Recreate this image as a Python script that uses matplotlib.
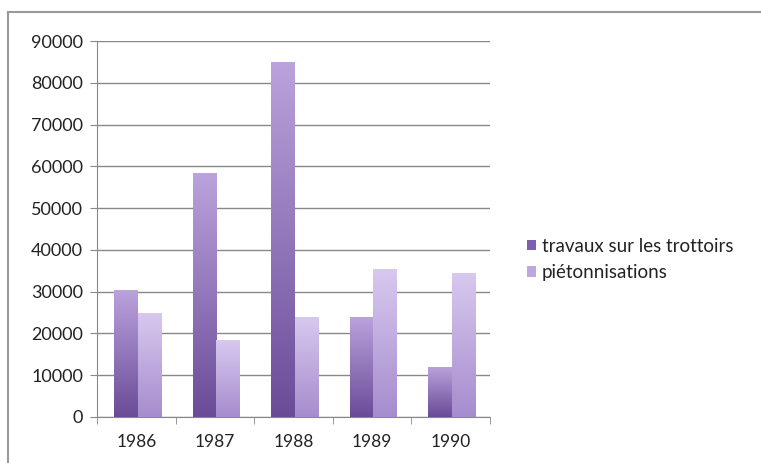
import numpy as np
import matplotlib
matplotlib.use("Agg")
import matplotlib.pyplot as plt
from matplotlib.colors import LinearSegmentedColormap
from matplotlib.lines import Line2D
from matplotlib.patches import Patch

years = ["1986", "1987", "1988", "1989", "1990"]
travaux = [30500, 58500, 85000, 24000, 12000]
pietons = [25000, 18500, 24000, 35500, 34500]
series_names = ["travaux sur les trottoirs", "piétonnisations"]

plt.rcParams['font.family'] = ['Lato', 'DejaVu Sans']

fig = plt.figure(figsize=(7.61, 4.63), dpi=100)
ax = fig.add_axes([0.1275, 0.0994, 0.516, 0.812])

# outer chart frame (top and left edges visible)
fig.add_artist(Line2D([0.011, 1.0], [0.974, 0.974], transform=fig.transFigure,
                      color="#9a9a9a", lw=1.5))
fig.add_artist(Line2D([0.011, 0.011], [0.0, 0.974], transform=fig.transFigure,
                      color="#9a9a9a", lw=1.5))

x = np.arange(len(years))
w = 0.3
grads = [
    LinearSegmentedColormap.from_list("s1", ["#6a4b98", "#bba3dc"]),
    LinearSegmentedColormap.from_list("s2", ["#a68ccd", "#d8c9ef"]),
]
solid = ["#7d5fb0", "#bca8e0"]

for k, vals in enumerate([travaux, pietons]):
    offs = -w / 2 if k == 0 else w / 2
    bars = ax.bar(x + offs + 0.02, vals, width=w, color="none", edgecolor="none", zorder=3)
    for b in bars:
        x0, y0 = b.get_x(), b.get_y()
        h = b.get_height()
        grad = np.linspace(0, 1, 256).reshape(-1, 1)
        im = ax.imshow(grad, cmap=grads[k], origin="lower", aspect="auto",
                       extent=[x0, x0 + b.get_width(), y0, y0 + h], zorder=3)
        im.set_clip_path(b)

ax.set_xlim(-0.5, 4.5)
ax.set_ylim(0, 90000)

ax.set_yticks(np.arange(0, 90001, 10000))
ax.yaxis.grid(True, color="#888888", lw=1.0, zorder=0)
ax.set_axisbelow(True)
ax.set_xticks(x)
ax.set_xticklabels(years)
ax.set_xticks(np.arange(-0.5, 4.6, 1), minor=True)
ax.tick_params(axis="x", which="major", length=0, pad=12, labelsize=12.5, labelcolor="#222222")
ax.tick_params(axis="x", which="minor", length=5, direction="out", color="#888888")
ax.tick_params(axis="y", length=5, color="#888888", labelsize=13, labelcolor="#222222", pad=5)

for s in ["top", "right"]:
    ax.spines[s].set_visible(False)
ax.spines["left"].set_color("#888888")
ax.spines["bottom"].set_color("#888888")

handles = [Patch(facecolor=solid[k], edgecolor="none") for k in range(2)]
leg = fig.legend(handles, series_names, loc="upper left", bbox_to_anchor=(0.67, 0.523),
                 frameon=False, fontsize=13.5, handlelength=0.5, handleheight=0.5,
                 handletextpad=0.3, labelspacing=0.5)
for t in leg.get_texts():
    t.set_color("#222222")

fig.savefig("out.png", dpi=100)
